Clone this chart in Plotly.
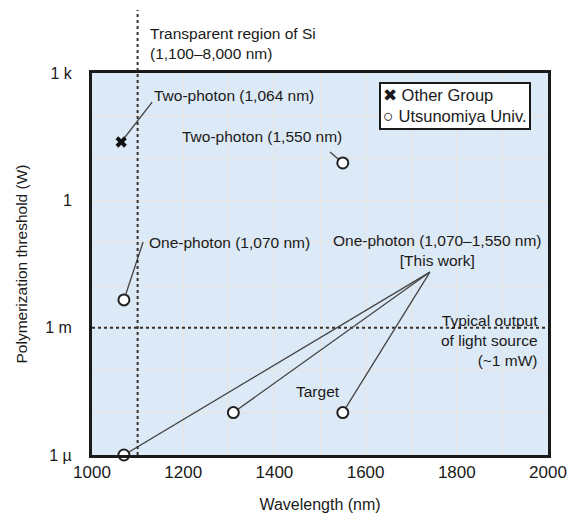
import plotly.graph_objects as go

# ---------------- data ----------------
other_wl = [1064]
other_thr = [23.7]            # W, two-photon (other group)

utsu_wl = [1550, 1070, 1070, 1310, 1550]
utsu_thr = [7.6, 4.5e-3, 1e-6, 1e-5, 1e-5]   # W

typical_output = 1e-3          # W (~1 mW)
si_edge = 1100                 # nm

x_tickvals = [1000, 1100, 1200, 1300, 1400, 1500, 1600, 1700, 1800, 1900, 2000]
x_ticktext = ["1000", "", "1200", "", "1400", "", "1600", "", "1800", "", "2000"]
y_tickvals = [1e-6, 1e-5, 1e-4, 1e-3, 1e-2, 1e-1, 1, 1e1, 1e2, 1e3]
y_ticktext = ["1 µ", "", "", "1 m", "", "", "1", "", "", "1 k"]

# leader-line anchor points (wavelength nm, W)
lead_two_1064 = (1132, 207)
lead_two_1550 = (1522, 13.8)
lead_one_1070 = (1112, 0.104)
lead_this_work = (1741, 0.0204)

INK = "#1a1a1a"
FONT = "Liberation Sans, Arial, sans-serif"

fig = go.Figure()

# typical output dotted line
fig.add_trace(go.Scatter(x=[1000, 2000], y=[typical_output, typical_output], mode="lines",
                         line=dict(color="#333333", width=2, dash="dot"),
                         hoverinfo="skip", showlegend=False))

def leader(p, q):
    fig.add_trace(go.Scatter(x=[p[0], q[0]], y=[p[1], q[1]], mode="lines",
                             line=dict(color="#444444", width=1.3),
                             hoverinfo="skip", showlegend=False, cliponaxis=False))

leader((other_wl[0], other_thr[0]), lead_two_1064)
leader((utsu_wl[0], utsu_thr[0]), lead_two_1550)
leader((utsu_wl[1], utsu_thr[1]), lead_one_1070)
for i in (2, 3, 4):
    leader((utsu_wl[i], utsu_thr[i]), lead_this_work)

fig.add_trace(go.Scatter(x=other_wl, y=other_thr, mode="markers", name="Other Group",
                         marker=dict(symbol="x", size=10, color="#111111",
                                     line=dict(width=0)),
                         cliponaxis=False, showlegend=False))
fig.add_trace(go.Scatter(x=utsu_wl, y=utsu_thr, mode="markers", name="Utsunomiya Univ.",
                         marker=dict(symbol="circle", size=11, color="white",
                                     line=dict(width=2, color="#222222")),
                         cliponaxis=False, showlegend=False))

# vertical dotted line for Si transparent region (extends above the plot)
fig.add_shape(type="line", xref="x", yref="paper", x0=si_edge, x1=si_edge, y0=0, y1=1.165,
              line=dict(color="#333333", width=2, dash="dot"))

def note(text, x, y, xanchor="left", align="left", yanchor="middle"):
    fig.add_annotation(text=text, xref="paper", yref="paper", x=x, y=y,
                       xanchor=xanchor, yanchor=yanchor, align=align, showarrow=False,
                       font=dict(family=FONT, size=15.5, color=INK))

note("Transparent region of Si<br>(1,100–8,000 nm)", 0.1228, 1.0785)
note("Two-photon (1,064 nm)", 0.1316, 0.9424)
note("Two-photon (1,550 nm)", 0.193, 0.8325)
note("One-photon (1,070 nm)", 0.1206, 0.555)
note("One-photon (1,070–1,550 nm)<br>[This work]", 0.7577, 0.5366, xanchor="center", align="center")
note("Typical output<br>of light source<br>(~1 mW)", 0.9825, 0.301, xanchor="right", align="right")
note("Target", 0.4956, 0.165, xanchor="center", align="center")

# legend box
fig.add_annotation(text="✖ Other Group<br><span style='font-size:18px'>○</span> Utsunomiya Univ.",
                   xref="paper", yref="paper",
                   x=0.629, y=0.976, xanchor="left", yanchor="top", align="left",
                   showarrow=False, bgcolor="white", bordercolor=INK, borderwidth=2,
                   borderpad=2, font=dict(family=FONT, size=16.5, color=INK))

# page body has an 8px margin, so the figure is sized/margined to compensate
fig.update_layout(
    width=576, height=507,
    margin=dict(l=84, r=36, t=65, b=60),
    paper_bgcolor="white", plot_bgcolor="#dce9f6",
    font=dict(family=FONT, color=INK),
    showlegend=False,
)
fig.update_xaxes(range=[1000, 2000], tickmode="array", tickvals=x_tickvals, ticktext=x_ticktext,
                 showgrid=True, gridcolor="#e8e3dd", gridwidth=1, zeroline=False, automargin=False,
                 showline=True, linecolor=INK, linewidth=3, mirror=True, ticks="",
                 tickfont=dict(size=17, color=INK), ticklabelstandoff=0,
                 title=dict(text="Wavelength (nm)", font=dict(size=16, color=INK), standoff=18))
fig.update_yaxes(type="log", range=[-6, 3], tickmode="array", tickvals=y_tickvals, ticktext=y_ticktext,
                 showgrid=True, gridcolor="#e8e3dd", gridwidth=1, zeroline=False, automargin=False,
                 showline=True, linecolor=INK, linewidth=3, mirror=True, ticks="",
                 tickfont=dict(size=16, color=INK), ticklabelstandoff=14,
                 title=dict(text="Polymerization threshold (W)", font=dict(size=15.5, color=INK), standoff=14))

fig.write_html("out.html")
